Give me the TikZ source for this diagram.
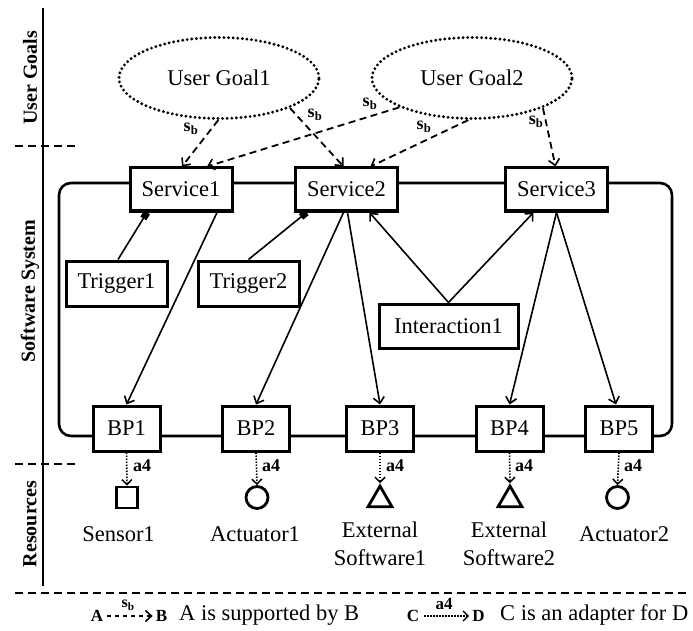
\documentclass[tikz,border=0pt]{standalone}
\usepackage{fontspec}
\setmainfont{Liberation Serif}
\usetikzlibrary{arrows.meta,shapes.geometric,calc}
\tikzset{
  box/.style={draw, fill=white, line width=3pt, inner sep=0pt, font=\fontsize{22.5}{24}\selectfont},
  goal/.style={ellipse, draw, line width=3.2pt, dash pattern=on 0pt off 4.6pt, line cap=round, minimum width=200pt, minimum height=81pt, inner sep=0pt, font=\fontsize{22.5}{24}\selectfont},
  supp/.style={line width=1.8pt, dash pattern=on 7pt off 4.5pt, -{Straight Barb[length=6pt,width=11pt,line width=1.6pt]}},
  call/.style={line width=1.6pt, -{Straight Barb[length=6pt,width=11pt,line width=1.6pt]}},
  trig/.style={line width=1.6pt, -{Square[length=7pt,width=7pt]}},
  adapt/.style={line width=1.6pt, dash pattern=on 1.5pt off 1.5pt, -{Straight Barb[length=5pt,width=10pt,line width=1.5pt]}},
  lbl/.style={font=\fontsize{18}{20}\selectfont\bfseries, inner sep=0pt},
  lane/.style={rotate=90, font=\fontsize{20}{22}\selectfont\bfseries, inner sep=0pt},
  txt/.style={font=\fontsize{22.5}{28}\selectfont, inner sep=0pt, align=center},
  res/.style={draw, line width=2.8pt, inner sep=0pt},
  sepline/.style={line width=1.8pt, dash pattern=on 8pt off 5pt}
}
\begin{document}
\begin{tikzpicture}[x=1pt,y=-1pt]
\useasboundingbox (0,0) rectangle (693,631);
% lanes
\draw[line width=2pt] (43,8) -- (43,586);
\draw[sepline] (15,146) -- (77,146);
\draw[sepline] (15,464) -- (77,464);
\draw[sepline] (15,593) -- (690,593);
\node[lane] (l1) at (30,78) {User Goals};
\node[lane] (l2) at (30,291) {Software System};
\node[lane] (l3) at (30,524) {Resources};
% software system frame
\draw[line width=2.6pt, rounded corners=12pt] (59,183) rectangle (672,436);
% goals
\node[goal] (ug1) at (219,78) {User Goal1};
\node[goal] (ug2) at (472,78) {User Goal2};
% services
\node[box, minimum width=102pt, minimum height=43pt] (s1) at (181,189.5) {Service1};
\node[box, minimum width=102pt, minimum height=43pt] (s2) at (346.5,189.5) {Service2};
\node[box, minimum width=102pt, minimum height=43pt] (s3) at (556.5,189.5) {Service3};
% triggers, interaction
\node[box, minimum width=101pt, minimum height=45pt] (t1) at (116.5,283.5) {Trigger1};
\node[box, minimum width=101pt, minimum height=45pt] (t2) at (248.5,283.5) {Trigger2};
\node[box, minimum width=139pt, minimum height=44pt] (ia) at (448.5,326) {Interaction1};
% BPs
\node[box, minimum width=67pt, minimum height=45pt] (b1) at (126.5,428.5) {BP1};
\node[box, minimum width=67pt, minimum height=45pt] (b2) at (256,428.5) {BP2};
\node[box, minimum width=67pt, minimum height=45pt] (b3) at (380,428.5) {BP3};
\node[box, minimum width=67pt, minimum height=45pt] (b4) at (509.5,428.5) {BP4};
\node[box, minimum width=67pt, minimum height=45pt] (b5) at (619,428.5) {BP5};
% resources
\node[res, rectangle, minimum size=21pt] (r1) at (127,497.5) {};
\node[res, circle, minimum size=22pt] (r2) at (257,497.5) {};
\node[res, regular polygon, regular polygon sides=3, minimum size=27.7pt] (r3) at (380,499.9) {};
\node[res, regular polygon, regular polygon sides=3, minimum size=27.7pt] (r4) at (510,499.9) {};
\node[res, circle, minimum size=22pt] (r5) at (617.5,497.5) {};
\node[txt] (n1) at (118.5,534) {Sensor1};
\node[txt] (n2) at (255,534) {Actuator1};
\node[txt, anchor=north] (n3) at (380,522) {External\\Software1};
\node[txt, anchor=north] (n4) at (509,522) {External\\Software2};
\node[txt] (n5) at (624,534) {Actuator2};
% supported-by
\draw[supp] (ug1.-91) -- ([xshift=1]s1.north);
\draw[supp] (ug1.-23) -- ([xshift=-3]s2.north);
\draw[supp] (ug2.-158) -- ([xshift=26]s1.north);
\draw[supp] (ug2.-95) -- ([xshift=24]s2.north);
\draw[supp] (ug2.-23) -- ([xshift=-1]s3.north);
\node[lbl] (sb1) at (191,129) {s\textsubscript{b}};
\node[lbl] (sb2) at (315,115) {s\textsubscript{b}};
\node[lbl] (sb3) at (370,104) {s\textsubscript{b}};
\node[lbl] (sb4) at (424,127) {s\textsubscript{b}};
\node[lbl] (sb5) at (536,122) {s\textsubscript{b}};
% triggers
\draw[trig] ([xshift=1.5]t1.north) -- ([xshift=-34]s1.south);
\draw[trig] (t2.north) -- ([xshift=-40]s2.south);
% service to BP
\draw[call] ([xshift=36]s1.south) -- (b1.north);
\draw[call] ([xshift=-3]s2.south) -- (b2.north);
\draw[call] ([xshift=1]s2.south) -- (b3.north);
\draw[call] (s3.south) -- (b4.north);
\draw[call] (s3.south) -- ([xshift=-3]b5.north);
% interaction
\draw[call] (ia.north) -- ([xshift=23]s2.south);
\draw[call] (ia.north) -- ([xshift=-23]s3.south);
% adapters
\draw[adapt] (b1.south) -- (r1.north);
\draw[adapt] (b2.south) -- (r2.north);
\draw[adapt] (b3.south) -- (r3.north);
\draw[adapt] (b4.south) -- (r4.north);
\draw[adapt] (b5.south) -- (r5.north);
\node[lbl] (a1) at (142,466) {a4};
\node[lbl] (a2) at (271,466) {a4};
\node[lbl] (a3) at (395,466) {a4};
\node[lbl] (a4l) at (524,466) {a4};
\node[lbl] (a5) at (633,466) {a4};
% legend
\node[lbl, font=\fontsize{17}{19}\selectfont\bfseries] (la) at (97,616) {A};
\node[lbl, font=\fontsize{17}{19}\selectfont\bfseries] (lb) at (161.5,616) {B};
\draw[supp, line width=1.6pt, dash pattern=on 4pt off 4pt] ([xshift=4]la.east) -- ([xshift=-3]lb.west);
\node[lbl, font=\fontsize{16}{18}\selectfont\bfseries] (lsb) at (128,605) {s\textsubscript{b}};
\node[txt, anchor=west] (lt1) at (179,615) {A is supported by B};
\node[lbl, font=\fontsize{17}{19}\selectfont\bfseries] (lc) at (413,616) {C};
\node[lbl, font=\fontsize{17}{19}\selectfont\bfseries] (ld) at (478.5,616) {D};
\draw[adapt] ([xshift=5]lc.east) -- ([xshift=-3]ld.west);
\node[lbl, font=\fontsize{17}{19}\selectfont\bfseries] (la4) at (444,604) {a4};
\node[txt, anchor=west] (lt2) at (500,615) {C is an adapter for D};
\end{tikzpicture}
\end{document}
